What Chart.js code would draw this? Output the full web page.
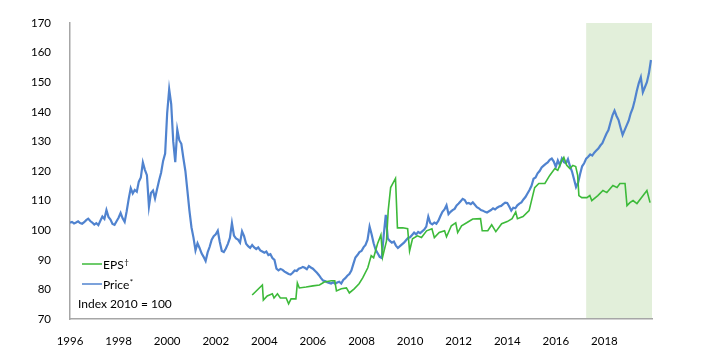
<!DOCTYPE html>
<html>
<head>
<meta charset="utf-8">
<script src="https://cdn.jsdelivr.net/npm/chart.js@4.4.1/dist/chart.umd.min.js"></script>
<style>
  html, body { margin: 0; padding: 0; background: #ffffff; }
</style>
</head>
<body>
<canvas id="myChart" width="719" height="349"></canvas>
<script>
// Price index, one value per month from Jan 1996 (index 2010 = 100)
var priceStartYear = 1996;
var priceMonthly = [
  102.5, 102.8, 102.3, 102.6, 103.0, 102.4, 102.2, 102.7, 103.4, 103.9, 103.1, 102.6, // 1996
  101.9, 102.4, 101.7, 103.2, 104.6, 103.8, 106.8, 104.5, 103.6, 102.1, 101.8, 103.0, // 1997
  104.2, 105.8, 104.0, 102.8, 106.4, 110.6, 114.2, 112.4, 113.6, 113.0, 116.4, 117.8, // 1998
  122.9, 120.4, 118.6, 108.0, 112.6, 113.4, 110.7, 113.8, 116.8, 119.4, 123.4, 125.9, // 1999
  139.5, 147.6, 142.6, 130.0, 123.0, 134.0, 130.4, 129.2, 124.4, 120.0, 113.4, 106.6, // 2000
  101.0, 97.5, 93.2, 95.6, 94.0, 92.2, 91.0, 89.6, 92.5, 94.4, 96.8, 98.0,            // 2001
  98.6, 99.8, 96.0, 93.0, 92.6, 93.8, 95.4, 97.4, 102.4, 98.2, 97.2, 96.8,            // 2002
  95.8, 99.6, 98.0, 95.4, 94.6, 94.0, 95.0, 94.2, 93.6, 94.2, 93.2, 92.8,             // 2003
  92.4, 92.8, 91.6, 91.9, 90.6, 90.0, 87.0, 86.4, 86.9, 86.6, 86.0, 85.6,             // 2004
  85.2, 85.0, 85.6, 86.4, 86.2, 87.0, 87.2, 87.6, 87.3, 86.8, 87.9, 87.4,             // 2005
  87.0, 86.3, 85.6, 84.8, 83.8, 83.0, 82.8, 82.4, 82.2, 82.0, 82.4, 81.9,             // 2006
  82.3, 82.6, 82.0, 83.2, 83.8, 84.6, 85.2, 86.4, 88.6, 90.8, 91.6, 92.6,             // 2007
  93.0, 94.2, 95.0, 96.8, 101.2, 98.6, 95.6, 93.4, 92.2, 91.0, 90.6, 98.4,            // 2008
  105.2, 97.2, 96.4, 95.8, 96.2, 94.8, 94.0, 94.6, 95.2, 95.8, 96.6, 97.4,            // 2009
  97.6, 98.4, 99.2, 98.6, 99.4, 99.0, 99.6, 100.2, 101.2, 104.6, 102.4, 102.0,        // 2010
  102.6, 102.2, 103.2, 104.8, 106.2, 107.0, 108.4, 105.4, 106.2, 106.8, 107.2, 108.4, // 2011
  109.0, 109.8, 110.6, 110.2, 109.0, 109.2, 108.8, 109.4, 108.6, 107.8, 107.4, 106.8, // 2012
  106.6, 106.2, 106.0, 106.4, 106.8, 107.4, 107.0, 107.6, 108.0, 108.2, 108.8, 109.3, // 2013
  109.2, 108.0, 106.6, 107.6, 107.4, 108.4, 109.0, 109.4, 110.4, 111.2, 112.4, 113.6, // 2014
  115.0, 117.4, 117.8, 119.2, 120.0, 121.2, 121.8, 122.4, 122.9, 123.8, 124.2, 123.2, // 2015
  121.4, 123.6, 122.0, 124.2, 123.0, 122.6, 124.0, 121.6, 119.8, 117.2, 114.6, 116.0, // 2016
  119.0, 121.6, 122.6, 124.2, 124.8, 125.6, 125.2, 126.2, 126.9, 127.6, 128.6, 129.4, // 2017
  131.0, 132.6, 133.8, 136.4, 138.8, 140.4, 138.6, 137.2, 134.6, 132.2, 133.8, 135.4, // 2018
  137.0, 139.5, 141.2, 143.9, 147.0, 149.7, 151.7, 146.6, 148.3, 150.0, 153.0, 157.5  // 2019
];

// Earnings per share, irregular dates (decimal years)
var epsDates = [
  2003.5, 2003.92, 2003.96, 2004.12, 2004.33, 2004.4, 2004.54, 2004.66, 2004.9, 2005.0,
  2005.1, 2005.3, 2005.36, 2005.44, 2005.72, 2006.0, 2006.27, 2006.47, 2006.76, 2006.9,
  2006.97, 2007.17, 2007.38, 2007.5, 2007.7, 2007.9, 2008.05, 2008.26, 2008.4, 2008.5,
  2008.66, 2008.8, 2008.87, 2009.03, 2009.1, 2009.2, 2009.4, 2009.48, 2009.7, 2009.9,
  2009.98, 2010.1, 2010.3, 2010.47, 2010.68, 2010.9, 2011.0, 2011.2, 2011.42, 2011.5,
  2011.7, 2011.88, 2011.96, 2012.12, 2012.33, 2012.58, 2012.9, 2012.97, 2013.2, 2013.36,
  2013.53, 2013.77, 2014.0, 2014.2, 2014.35, 2014.42, 2014.65, 2014.9, 2015.13, 2015.3,
  2015.55, 2015.75, 2015.96, 2016.08, 2016.25, 2016.33, 2016.45, 2016.58, 2016.7, 2016.82,
  2016.9, 2016.95, 2017.07, 2017.28, 2017.4, 2017.48, 2017.73, 2017.94, 2018.1, 2018.35,
  2018.52, 2018.64, 2018.85, 2018.93, 2019.05, 2019.18, 2019.34, 2019.75, 2019.88
];
var epsValues = [
  78.1, 81.5, 76.4, 77.8, 78.5, 77.1, 78.5, 77.1, 77.1, 75.1,
  76.8, 76.8, 82.2, 80.5, 80.8, 81.2, 81.5, 82.5, 82.9, 82.9,
  79.5, 80.2, 80.5, 78.8, 80.2, 81.9, 83.9, 87.3, 91.4, 90.7,
  95.4, 98.4, 91.0, 96.4, 106.6, 114.4, 117.5, 100.8, 100.8, 100.5,
  93.0, 97.1, 98.1, 97.5, 99.8, 100.5, 97.5, 99.2, 99.8, 97.8,
  101.5, 102.5, 99.2, 101.5, 102.5, 103.8, 103.9, 99.8, 99.8, 101.8,
  99.5, 102.2, 102.9, 103.9, 106.2, 103.9, 104.6, 106.6, 114.4, 115.8,
  115.8, 118.5, 120.8, 120.2, 123.6, 124.6, 121.9, 120.8, 121.9, 121.5,
  118.5, 111.7, 111.0, 111.0, 111.7, 110.0, 111.7, 113.4, 112.7, 115.1,
  114.4, 115.8, 115.8, 108.3, 109.3, 110.0, 109.0, 113.4, 109.3
];

var xTickYears = [1996, 1998, 2000, 2002, 2004, 2006, 2008, 2010, 2012, 2014, 2016, 2018];
var shadeFrom = 2017.25;
var shadeTo = 2019.96;

var fontFamily = 'Lato, "Open Sans", sans-serif';

var priceData = priceMonthly.map(function(v, i) {
  return { x: priceStartYear + i / 12, y: v };
});
var epsData = epsDates.map(function(d, i) {
  return { x: d, y: epsValues[i] };
});

// Light green band behind the most recent period
var shadePlugin = {
  id: 'shade',
  beforeDraw: function(chart) {
    var ctx = chart.ctx;
    var area = chart.chartArea;
    var x = chart.scales.x;
    var left = x.getPixelForValue(shadeFrom);
    var right = x.getPixelForValue(shadeTo);
    ctx.save();
    ctx.fillStyle = '#e2efda';
    ctx.fillRect(left, area.top, right - left, area.bottom - area.top);
    ctx.restore();
  }
};

// Legend in the lower left corner, with the index note under it
var insideLegend = {
  id: 'insideLegend',
  afterDraw: function(chart) {
    var ctx = chart.ctx;
    var rows = [
      { ds: chart.data.datasets[0], mark: '\u2020', y: 264 },
      { ds: chart.data.datasets[1], mark: '*', y: 284 }
    ];
    ctx.save();
    ctx.textBaseline = 'middle';
    rows.forEach(function(r) {
      ctx.strokeStyle = r.ds.borderColor;
      ctx.lineWidth = 1.5;
      ctx.beginPath();
      ctx.moveTo(82, r.y);
      ctx.lineTo(102, r.y);
      ctx.stroke();
      ctx.fillStyle = '#000000';
      ctx.font = '12px ' + fontFamily;
      ctx.fillText(r.ds.label, 103, r.y + 1);
      var w = ctx.measureText(r.ds.label).width;
      ctx.font = '8px ' + fontFamily;
      ctx.fillText(r.mark, 103 + w + 0.5, r.y - 2);
    });
    ctx.font = '12px ' + fontFamily;
    ctx.fillText('Index 2010 = 100', 78, 304);
    ctx.restore();
  }
};

var chart = new Chart(document.getElementById('myChart'), {
  type: 'line',
  data: {
    datasets: [
      {
        label: 'EPS',
        data: epsData,
        borderColor: '#3dba3a',
        borderWidth: 1.6,
        pointRadius: 0,
        fill: false,
        tension: 0
      },
      {
        label: 'Price',
        data: priceData,
        borderColor: '#5083cf',
        borderWidth: 2.2,
        pointRadius: 0,
        fill: false,
        tension: 0
      }
    ]
  },
  options: {
    responsive: false,
    animation: false,
    events: [],
    layout: {
      padding: { left: 0, right: 67, top: 23, bottom: 0 }
    },
    scales: {
      x: {
        type: 'linear',
        min: 1996,
        max: shadeTo,
        grid: { display: false },
        border: { display: true, color: '#a6a6a6', width: 1.5 },
        afterBuildTicks: function(axis) {
          axis.ticks = xTickYears.map(function(v) { return { value: v }; });
        },
        afterFit: function(axis) { axis.height = 30; },
        ticks: {
          padding: 7,
          maxRotation: 0,
          color: '#000000',
          font: { family: fontFamily, size: 11.5 },
          callback: function(v) { return String(v); }
        }
      },
      y: {
        min: 70,
        max: 170,
        grid: { display: false },
        border: { display: true, color: '#a6a6a6', width: 1.5 },
        afterFit: function(axis) { axis.width = 70; },
        ticks: {
          stepSize: 10,
          padding: 11,
          color: '#000000',
          font: { family: fontFamily, size: 11.5 }
        }
      }
    },
    plugins: {
      legend: { display: false },
      tooltip: { enabled: false }
    }
  },
  plugins: [shadePlugin, insideLegend]
});
</script>
</body>
</html>
